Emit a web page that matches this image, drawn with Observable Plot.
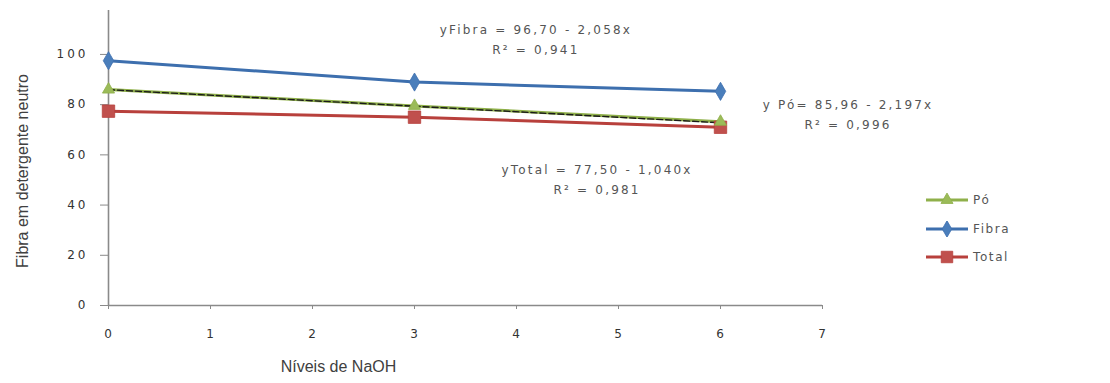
<!DOCTYPE html>
<html>
<head>
<meta charset="utf-8">
<script src="https://cdn.jsdelivr.net/npm/d3@7"></script>
<script src="https://cdn.jsdelivr.net/npm/@observablehq/plot@0.6"></script>
<style>
  html, body { margin: 0; padding: 0; background: #fff; }
  #wrap { position: relative; width: 1110px; height: 383px; overflow: hidden; }
  #legend { position: absolute; left: 925px; top: 186px; font-family: "DejaVu Sans", sans-serif; font-size: 12px; color: #555; letter-spacing: 1.6px; }
  #legend .row { display: flex; align-items: center; height: 28.5px; }
  #legend svg { margin-right: 4px; }
</style>
</head>
<body>
<div id="wrap"><div id="chart"></div><div id="legend"></div></div>
<script>
// ---- data ----
const niveis = [0, 3, 6];
const seriesNames = ["Pó", "Fibra", "Total"];
const po    = [86.0, 79.5, 73.2];
const fibra = [97.5, 89.0, 85.3];
const total = [77.4, 75.0, 71.0];
const xTicks = [0, 1, 2, 3, 4, 5, 6, 7];
const yTicks = [0, 20, 40, 60, 80, 100];
const equations = ["yFibra = 96,70 - 2,058x", "y Pó= 85,96 - 2,197x", "yTotal = 77,50 - 1,040x"];
const r2Labels = ["R² = 0,941", "R² = 0,996", "R² = 0,981"];
const poFit = {a: 85.96, b: -2.197};
const yTitle = "Fibra em detergente neutro";
const xTitle = "Níveis de NaOH";

// ---- styles / layout ----
const colors = {"Pó": "#9bbb59", "Fibra": "#4a7ebb", "Total": "#c0504d"};
const lineColors = {"Pó": "#8fb04a", "Fibra": "#3d6fae", "Total": "#b8403c"};
const symbols = {"Pó": "triangle", "Fibra": "diamond", "Total": "square"};
const markerR = {"Pó": 4.5, "Fibra": 5.5, "Total": 7};
const eqAnchors = [{x: 4.19, y: 109.5}, {x: 7.25, y: 79.7}, {x: 4.79, y: 53.8}];

const values = {"Pó": po, "Fibra": fibra, "Total": total};
const rows = seriesNames.flatMap(s => niveis.map((n, i) => ({serie: s, x: n, y: values[s][i]})));
const fitPts = [niveis[0], niveis[niveis.length - 1]].map(x => ({x, y: poFit.a + poFit.b * x}));
const eqRows = equations.map((t, i) => ({t, r: r2Labels[i], ...eqAnchors[i]}));

const font = "DejaVu Sans, sans-serif";
const chart = Plot.plot({
  width: 1110, height: 383,
  marginLeft: 108, marginRight: 288, marginTop: 10, marginBottom: 78,
  style: {fontFamily: font, background: "#fff"},
  x: {domain: [0, 7], axis: null},
  y: {domain: [0, 117.5], axis: null},
  r: {type: "identity"},
  marks: [
    Plot.ruleY([0], {stroke: "#8a8a8a", strokeWidth: 1.6}),
    Plot.ruleX([0], {stroke: "#8a8a8a", strokeWidth: 1.6}),
    Plot.axisX({ticks: xTicks, tickSize: 4, tickPadding: 20, stroke: "#8a8a8a", fill: "#333", fontSize: 12, label: null, tickFormat: d => d, className: "xt"}),
    Plot.axisY({ticks: yTicks, tickSize: 8, tickPadding: 12, stroke: "#8a8a8a", fill: "#333", fontSize: 12, label: null, className: "yt"}),
    Plot.line(rows, {x: "x", y: "y", z: "serie", stroke: d => lineColors[d.serie], strokeWidth: 3}),
    Plot.line(fitPts, {x: "x", y: "y", stroke: "#1a1a1a", strokeWidth: 1.4, strokeDasharray: "6,3"}),
    Plot.dot(rows, {x: "x", y: "y", symbol: d => symbols[d.serie], fill: d => colors[d.serie], stroke: d => lineColors[d.serie], r: d => markerR[d.serie], strokeWidth: 0.8}),
    Plot.text(eqRows, {x: "x", y: "y", text: "t", fill: "#555", fontSize: 12, className: "eq"}),
    Plot.text(eqRows, {x: "x", y: "y", text: "r", fill: "#555", fontSize: 12, dy: 20, className: "eq"}),
    Plot.text([yTitle], {frameAnchor: "left", textAnchor: "middle", rotate: -90, dx: -86, dy: 13, fontSize: 16, fill: "#404040", fontFamily: "Liberation Sans, sans-serif"}),
    Plot.text([xTitle], {frameAnchor: "bottom", dx: -127, dy: 66, fontSize: 16, fill: "#404040", fontFamily: "Liberation Sans, sans-serif"})
  ]
});
document.getElementById("chart").appendChild(chart);
d3.select(chart).selectAll(".eq text").style("letter-spacing", "2.2px");
d3.select(chart).selectAll(".yt text").style("letter-spacing", "3px");
d3.select(chart).selectAll(".xt text").style("letter-spacing", "1px");

// ---- legend ----
const legend = d3.select("#legend");
const symbolGen = {"Pó": d3.symbolTriangle, "Fibra": d3.symbolDiamond, "Total": d3.symbolSquare};
const legendArea = {"Pó": Math.PI * 20, "Fibra": Math.PI * 25, "Total": Math.PI * 42};
seriesNames.forEach(s => {
  const row = legend.append("div").attr("class", "row");
  const svg = row.append("svg").attr("width", 44).attr("height", 16);
  svg.append("line").attr("x1", 1).attr("x2", 43).attr("y1", 8).attr("y2", 8).attr("stroke", lineColors[s]).attr("stroke-width", 2.8);
  svg.append("path").attr("transform", "translate(22,8)")
    .attr("d", d3.symbol(symbolGen[s], legendArea[s])())
    .attr("fill", colors[s]).attr("stroke", lineColors[s]).attr("stroke-width", 0.8);
  row.append("span").text(s);
});
</script>
</body>
</html>
